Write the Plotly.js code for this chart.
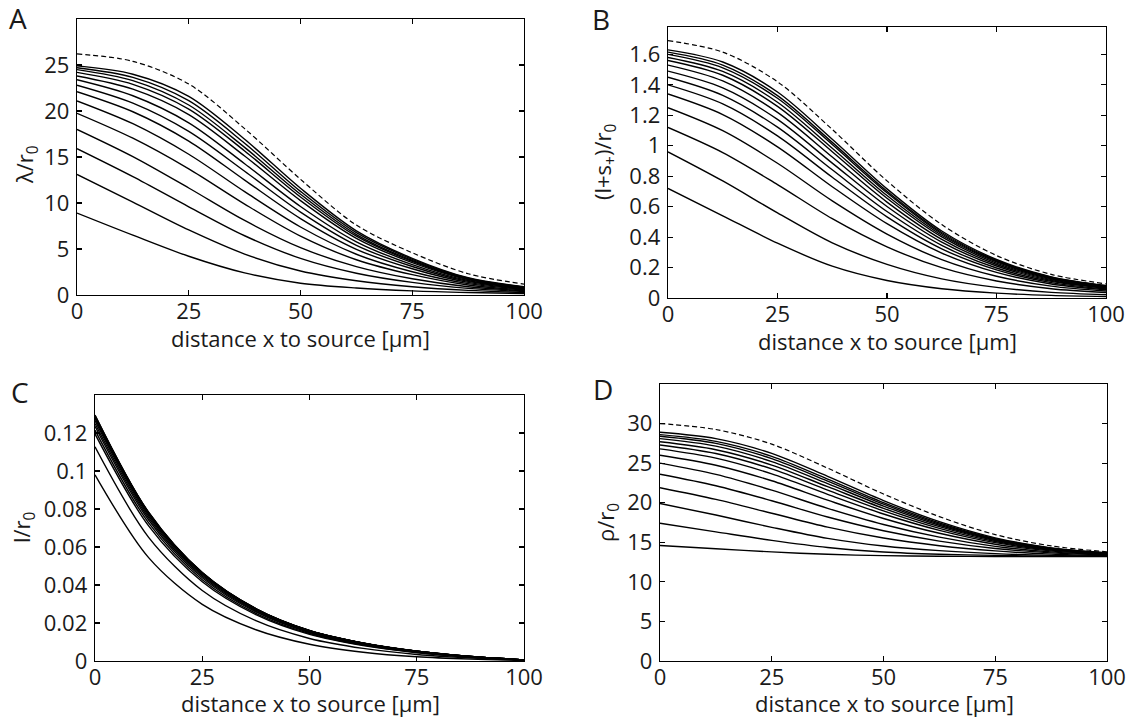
<!DOCTYPE html>
<html>
<head>
<meta charset="utf-8">
<script src="https://cdn.plot.ly/plotly-3.0.1.min.js"></script>
<style>html,body{margin:0;padding:0;background:#fff;}#chart{width:1134px;height:719px;}</style>
</head>
<body>
<div id="chart"></div>
<script>
// distance x to source [µm]
const xs = [0, 12.5, 25, 37.5, 50, 62.5, 75, 87.5, 100];
const xTicks = [0, 25, 50, 75, 100];

// Panel A: lambda / r0
const lambdaSolid = [
  [24.9, 24.0, 21.59, 16.93, 11.60, 6.97, 3.98, 1.87, 0.90],
  [24.7, 23.65, 21.12, 16.50, 11.26, 6.77, 3.88, 1.83, 0.86],
  [24.5, 23.3, 20.65, 16.05, 10.95, 6.57, 3.75, 1.76, 0.86],
  [24.2, 22.9, 20.21, 15.66, 10.65, 6.39, 3.65, 1.72, 0.85],
  [23.8, 22.37, 19.61, 15.11, 10.26, 6.16, 3.52, 1.67, 0.81],
  [23.4, 21.66, 18.72, 14.27, 9.62, 5.78, 3.30, 1.57, 0.77],
  [22.8, 20.85, 17.78, 13.45, 9.01, 5.40, 3.10, 1.48, 0.73],
  [22.1, 19.92, 16.73, 12.49, 8.31, 4.97, 2.85, 1.37, 0.69],
  [21.1, 18.62, 15.30, 11.23, 7.39, 4.43, 2.53, 1.24, 0.63],
  [19.75, 17.04, 13.71, 9.88, 6.40, 3.83, 2.21, 1.09, 0.55],
  [18.0, 15.04, 11.63, 8.10, 5.15, 3.08, 1.76, 0.90, 0.47],
  [15.9, 12.86, 9.59, 6.44, 3.98, 2.37, 1.37, 0.72, 0.38],
  [13.1, 10.10, 7.07, 4.45, 2.61, 1.55, 0.90, 0.50, 0.28],
  [8.9, 6.50, 4.21, 2.40, 1.28, 0.76, 0.45, 0.27, 0.16]
];
const lambdaDashed = [26.2, 25.4, 22.93, 18.08, 12.58, 7.60, 4.59, 2.31, 1.18];
const lambdaTicks = [0, 5, 10, 15, 20, 25];

// Panel B: (l + s+) / r0
const lsSolid = [
  [1.63, 1.55, 1.353, 1.043, 0.717, 0.440, 0.253, 0.139, 0.082],
  [1.615, 1.530, 1.329, 1.022, 0.701, 0.430, 0.247, 0.136, 0.079],
  [1.60, 1.512, 1.312, 1.008, 0.691, 0.422, 0.243, 0.133, 0.078],
  [1.58, 1.488, 1.286, 0.984, 0.673, 0.412, 0.237, 0.130, 0.076],
  [1.56, 1.463, 1.259, 0.961, 0.655, 0.401, 0.229, 0.126, 0.073],
  [1.53, 1.426, 1.219, 0.926, 0.630, 0.385, 0.220, 0.121, 0.070],
  [1.49, 1.380, 1.173, 0.886, 0.601, 0.367, 0.210, 0.115, 0.067],
  [1.45, 1.331, 1.122, 0.842, 0.568, 0.346, 0.197, 0.109, 0.064],
  [1.40, 1.275, 1.065, 0.793, 0.533, 0.323, 0.185, 0.101, 0.059],
  [1.34, 1.205, 0.993, 0.731, 0.488, 0.295, 0.168, 0.092, 0.054],
  [1.25, 1.099, 0.885, 0.638, 0.420, 0.252, 0.143, 0.078, 0.046],
  [1.12, 0.955, 0.745, 0.521, 0.336, 0.199, 0.112, 0.061, 0.036],
  [0.96, 0.769, 0.559, 0.362, 0.221, 0.126, 0.070, 0.037, 0.022],
  [0.72, 0.540, 0.360, 0.209, 0.115, 0.061, 0.032, 0.017, 0.010]
];
const lsDashed = [1.69, 1.615, 1.420, 1.107, 0.769, 0.482, 0.279, 0.155, 0.093];
const lsTicks = [0, 0.2, 0.4, 0.6, 0.8, 1, 1.2, 1.4, 1.6];
const lsTickText = ['0', '0.2', '0.4', '0.6', '0.8', '1', '1.2', '1.4', '1.6'];

// Panel C: l / r0
const lSolid = [
  [0.1295, 0.0783, 0.0466, 0.0276, 0.0161, 0.00945, 0.00518, 0.00241, 0.00061],
  [0.1292, 0.0782, 0.0465, 0.0275, 0.0160, 0.00943, 0.00517, 0.00240, 0.00061],
  [0.1289, 0.0780, 0.0464, 0.0275, 0.0160, 0.00941, 0.00516, 0.00240, 0.00061],
  [0.1286, 0.0778, 0.0463, 0.0274, 0.0159, 0.00939, 0.00514, 0.00239, 0.00060],
  [0.1283, 0.0776, 0.0462, 0.0273, 0.0159, 0.00937, 0.00513, 0.00239, 0.00060],
  [0.1280, 0.0774, 0.0461, 0.0273, 0.0159, 0.00934, 0.00512, 0.00238, 0.00060],
  [0.1277, 0.0773, 0.0460, 0.0272, 0.0158, 0.00932, 0.00511, 0.00238, 0.00060],
  [0.1265, 0.0763, 0.0453, 0.0268, 0.01556, 0.00913, 0.00500, 0.00232, 0.00059],
  [0.1250, 0.0753, 0.0446, 0.0263, 0.01525, 0.00893, 0.00488, 0.00226, 0.00058],
  [0.1235, 0.0742, 0.0438, 0.0258, 0.01494, 0.00873, 0.00474, 0.00220, 0.00056],
  [0.1215, 0.0727, 0.0428, 0.0251, 0.01448, 0.00843, 0.00457, 0.00211, 0.00055],
  [0.1195, 0.0711, 0.0417, 0.0244, 0.01400, 0.00810, 0.00436, 0.00202, 0.00053],
  [0.1127, 0.0651, 0.0371, 0.0212, 0.01187, 0.00662, 0.00343, 0.00157, 0.00043],
  [0.0980, 0.0544, 0.0298, 0.01646, 0.00882, 0.00461, 0.00220, 0.00098, 0.00029]
];
const lTicks = [0, 0.02, 0.04, 0.06, 0.08, 0.1, 0.12];
const lTickText = ['0', '0.02', '0.04', '0.06', '0.08', '0.1', '0.12'];

// Panel D: rho / r0
const rhoSolid = [
  [28.9, 28.1, 26.23, 23.33, 20.27, 17.60, 15.56, 14.30, 13.67],
  [28.6, 27.75, 25.86, 22.99, 20.02, 17.44, 15.46, 14.26, 13.65],
  [28.4, 27.5, 25.57, 22.73, 19.81, 17.30, 15.39, 14.22, 13.64],
  [28.1, 27.15, 25.19, 22.41, 19.58, 17.15, 15.32, 14.18, 13.62],
  [27.7, 26.7, 24.76, 22.03, 19.29, 16.97, 15.22, 14.13, 13.61],
  [27.3, 26.22, 24.27, 21.60, 18.97, 16.76, 15.10, 14.07, 13.58],
  [26.8, 25.63, 23.65, 21.06, 18.57, 16.50, 14.95, 14.01, 13.55],
  [26.0, 24.74, 22.77, 20.32, 18.01, 16.14, 14.76, 13.92, 13.51],
  [25.0, 23.58, 21.59, 19.29, 17.25, 15.65, 14.49, 13.79, 13.45],
  [23.6, 22.15, 20.25, 18.19, 16.46, 15.15, 14.22, 13.66, 13.40],
  [21.9, 20.42, 18.67, 16.91, 15.54, 14.57, 13.91, 13.51, 13.33],
  [19.9, 18.44, 16.89, 15.49, 14.53, 13.94, 13.57, 13.35, 13.26],
  [17.4, 16.31, 15.24, 14.34, 13.78, 13.49, 13.34, 13.25, 13.22],
  [14.6, 14.18, 13.79, 13.48, 13.31, 13.24, 13.21, 13.20, 13.20]
];
const rhoDashed = [30.0, 29.25, 27.40, 24.37, 21.10, 18.24, 15.97, 14.54, 13.79];
const rhoTicks = [0, 5, 10, 15, 20, 25, 30];

const panelLetters = ['A', 'B', 'C', 'D'];
const xTitle = 'distance x to source [μm]';
const yTitles = ['λ/r<sub>0</sub>', '(l+s<sub>+</sub>)/r<sub>0</sub>', 'l/r<sub>0</sub>', 'ρ/r<sub>0</sub>'];

// ---------- build ----------
const W = 1134, H = 719;
const FONT = 'Open Sans, Lato, sans-serif';
const INK = '#1a1a1a';
const traces = [];
function addPanel(solid, dashed, xa, ya) {
  solid.forEach(ys => traces.push({x: xs, y: ys, xaxis: xa, yaxis: ya, mode: 'lines',
    line: {color: '#000', width: 1.4, shape: 'spline', smoothing: 0.9}, hoverinfo: 'skip'}));
  if (dashed) traces.push({x: xs, y: dashed, xaxis: xa, yaxis: ya, mode: 'lines',
    line: {color: '#000', width: 1.2, dash: '5px,3px', shape: 'spline', smoothing: 0.9}, hoverinfo: 'skip'});
}
addPanel(lambdaSolid, lambdaDashed, 'x', 'y');
addPanel(lsSolid, lsDashed, 'x2', 'y2');
addPanel(lSolid, null, 'x3', 'y3');
addPanel(rhoSolid, rhoDashed, 'x4', 'y4');

const px = v => v / W;
const py = v => 1 - v / H;
const boxes = [
  {l: 77, r: 524, t: 19, b: 295},
  {l: 668, r: 1106, t: 27, b: 298},
  {l: 95, r: 524, t: 395, b: 661},
  {l: 660, r: 1107, t: 384, b: 661}
];
function axBase() {
  return {showline: true, linecolor: '#000', linewidth: 1.3, mirror: 'ticks', ticks: 'inside',
    ticklen: 5, tickwidth: 1.2, tickcolor: '#000', showgrid: false, zeroline: false,
    tickfont: {family: FONT, size: 22, color: INK}, fixedrange: true};
}
const layout = {width: W, height: H, margin: {l: 0, r: 0, t: 0, b: 0},
  paper_bgcolor: '#fff', plot_bgcolor: '#fff', showlegend: false, annotations: []};
const yRanges = [[0, 30], [0, 1.78], [0, 0.14], [0, 35]];
const yTickVals = [lambdaTicks, lsTicks, lTicks, rhoTicks];
const yTickTexts = [lambdaTicks.map(String), lsTickText, lTickText, rhoTicks.map(String)];
boxes.forEach((b, i) => {
  const k = i === 0 ? '' : String(i + 1);
  layout['xaxis' + k] = Object.assign(axBase(), {domain: [px(b.l), px(b.r)], range: [0, 100],
    anchor: 'y' + k, tickmode: 'array', tickvals: xTicks, ticktext: xTicks.map(String), ticklabelstandoff: -4});
  layout['yaxis' + k] = Object.assign(axBase(), {domain: [py(b.b), py(b.t)], range: yRanges[i],
    anchor: 'x' + k, tickmode: 'array', tickvals: yTickVals[i], ticktext: yTickTexts[i], ticklabelstandoff: 2});
});
const letterPos = [[18, 18], [601, 19], [20, 392], [603, 389]];
letterPos.forEach((p, i) => layout.annotations.push({text: panelLetters[i], xref: 'paper', yref: 'paper',
  x: px(p[0]), y: py(p[1]), xanchor: 'center', yanchor: 'middle', showarrow: false,
  font: {family: FONT, size: 28, color: INK}}));
const xtPos = [[300, 338], [887, 341], [310, 703], [884, 703]];
xtPos.forEach(p => layout.annotations.push({text: xTitle, xref: 'paper', yref: 'paper',
  x: px(p[0]), y: py(p[1]), xanchor: 'center', yanchor: 'middle', showarrow: false,
  font: {family: FONT, size: 22, color: INK}}));
const ytPos = [[26, 165], [604, 162], [23, 527], [607, 523]];
ytPos.forEach((p, i) => layout.annotations.push({text: yTitles[i], xref: 'paper', yref: 'paper',
  x: px(p[0]), y: py(p[1]), xanchor: 'center', yanchor: 'middle', textangle: -90, showarrow: false,
  font: {family: FONT, size: 22, color: INK}}));

Plotly.newPlot('chart', traces, layout, {displayModeBar: false, staticPlot: true});
</script>
</body>
</html>
